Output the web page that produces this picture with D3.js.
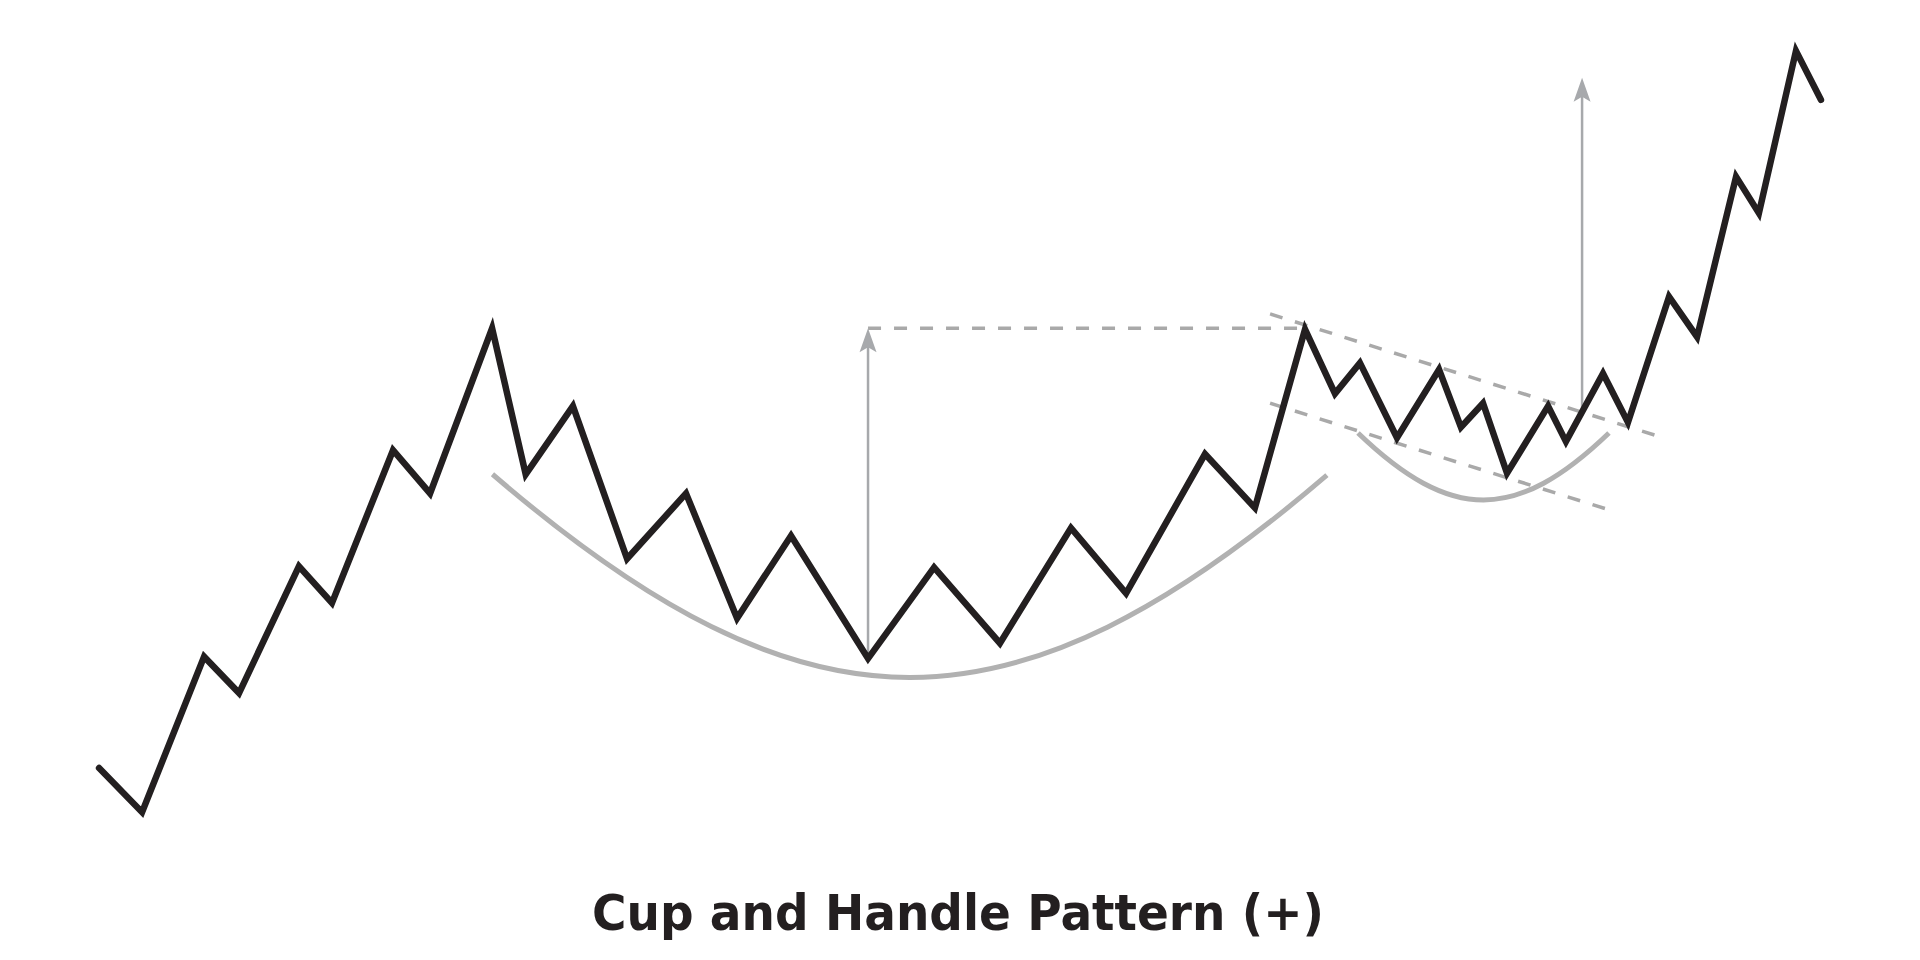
<!DOCTYPE html>
<html lang="en">
<head>
    <meta charset="UTF-8">
    <title>Cup and Handle Pattern (+)</title>
    <script src="https://d3js.org/d3.v7.min.js"></script>
    <style>
        html, body {
            margin: 0;
            padding: 0;
            background: #fff;
        }
        svg { display: block; }
    </style>
</head>
<body>
    <div id="chart"></div>

    <script>
        // price path: time (0-100) and price (0-100)
        const times = [5.16, 7.40, 10.63, 12.45, 15.57, 17.29, 20.47, 22.40, 25.63, 27.38,
            29.84, 32.66, 35.73, 38.39, 41.20, 45.21, 48.65, 52.08, 55.78, 58.65,
            62.76, 65.36, 67.97, 69.53, 70.83, 72.76, 74.95, 76.09, 77.24, 78.49,
            80.63, 81.56, 83.49, 84.79, 86.93, 88.39, 90.42, 91.61, 93.54, 94.84];
        const prices = [20.0, 15.4, 31.6, 27.8, 41.0, 37.2, 53.1, 48.6, 65.8, 50.6,
            57.7, 41.8, 48.6, 35.6, 44.2, 31.4, 40.9, 33.0, 45.0, 38.2,
            52.7, 47.1, 65.7, 59.0, 62.2, 54.4, 61.5, 55.5, 58.0, 50.7,
            57.7, 54.0, 61.1, 56.0, 69.1, 64.9, 81.6, 77.8, 94.7, 89.6];

        // guides
        const resistance = { price: 65.8, from: 45.21, to: 67.97 };
        const targets = [
            { time: 45.21, from: 31.4, to: 65.8 },
            { time: 82.40, from: 57.0, to: 91.9 }
        ];
        const channel = [
            [[66.15, 67.3], [86.46, 54.5]],
            [[66.15, 58.0], [84.11, 46.7]]
        ];
        // bezier control points [start, c1, c2, end]
        const cupCurve = [[25.65, 50.6], [42.03, 22.4], [52.71, 22.4], [69.11, 50.5]];
        const handleCurve = [[70.73, 54.9], [75.57, 45.6], [78.96, 45.6], [83.80, 54.9]];

        const title = "Cup and Handle Pattern (+)";

        const width = 1920, height = 960;

        const x = d3.scaleLinear().domain([0, 100]).range([0, width]);
        const y = d3.scaleLinear().domain([0, 100]).range([height, 0]);

        const svg = d3.select("#chart").append("svg")
            .attr("width", width)
            .attr("height", height);

        const dashColor = "#a9a9a9";
        const arrowColor = "#a7a9ac";

        // cup and handle arcs
        function bez(pts) {
            const p = d3.path();
            p.moveTo(x(pts[0][0]), y(pts[0][1]));
            p.bezierCurveTo(x(pts[1][0]), y(pts[1][1]), x(pts[2][0]), y(pts[2][1]), x(pts[3][0]), y(pts[3][1]));
            return p.toString();
        }
        svg.selectAll("path.arc")
            .data([cupCurve, handleCurve])
            .enter().append("path")
            .attr("class", "arc")
            .attr("d", bez)
            .attr("fill", "none")
            .attr("stroke", "#b1b1b1")
            .attr("stroke-width", 5);

        // resistance dashed line
        svg.append("line")
            .attr("x1", x(resistance.from))
            .attr("x2", x(resistance.to))
            .attr("y1", y(resistance.price))
            .attr("y2", y(resistance.price))
            .attr("stroke", dashColor)
            .attr("stroke-width", 3.5)
            .attr("stroke-dasharray", "13,13");

        // handle channel
        svg.selectAll("line.chan")
            .data(channel)
            .enter().append("line")
            .attr("class", "chan")
            .attr("x1", d => x(d[0][0]))
            .attr("y1", d => y(d[0][1]))
            .attr("x2", d => x(d[1][0]))
            .attr("y2", d => y(d[1][1]))
            .attr("stroke", dashColor)
            .attr("stroke-width", 3.5)
            .attr("stroke-dasharray", "13,13");

        // target arrows
        const arr = svg.selectAll("g.target")
            .data(targets)
            .enter().append("g")
            .attr("class", "target");
        arr.append("line")
            .attr("x1", d => x(d.time))
            .attr("x2", d => x(d.time))
            .attr("y1", d => y(d.from))
            .attr("y2", d => y(d.to) + 18)
            .attr("stroke", arrowColor)
            .attr("stroke-width", 2.5);
        arr.append("path")
            .attr("transform", d => `translate(${x(d.time)},${y(d.to)})`)
            .attr("d", "M0,0 L8.5,24 L0,19 L-8.5,24 Z")
            .attr("fill", arrowColor);

        // price line
        const pts = times.map((t, i) => [t, prices[i]]);
        svg.append("path")
            .datum(pts)
            .attr("d", d3.line().x(d => x(d[0])).y(d => y(d[1])))
            .attr("fill", "none")
            .attr("stroke", "#231f20")
            .attr("stroke-width", 6.5)
            .attr("stroke-linejoin", "miter")
            .attr("stroke-linecap", "round");

        // title
        svg.append("text")
            .attr("x", 958)
            .attr("y", 930)
            .attr("text-anchor", "middle")
            .attr("font-family", "'DejaVu Sans', Verdana, sans-serif")
            .attr("font-weight", "bold")
            .attr("font-size", 50)
            .attr("fill", "#231f20")
            .attr("textLength", 732)
            .attr("lengthAdjust", "spacingAndGlyphs")
            .text(title);
    </script>
</body>
</html>
